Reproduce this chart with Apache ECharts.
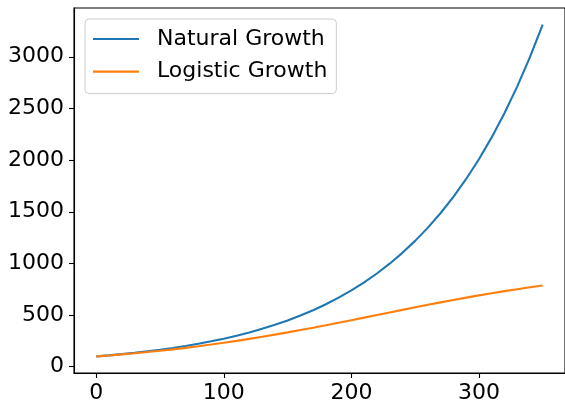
<!DOCTYPE html>
<html><head><meta charset="utf-8">
<script src="https://cdn.jsdelivr.net/npm/echarts@6/dist/echarts.min.js"></script>
<style>html,body{margin:0;padding:0;background:#fff}#c{width:565px;height:404px}</style>
</head><body><div id="c"></div>
<script>
const xValues = [0,10,20,30,40,50,60,70,80,90,100,110,120,130,140,150,160,170,180,190,200,210,220,230,240,250,260,270,280,290,300,310,320,330,340,350];
const naturalGrowth = [100,110.5,122.1,135,149.2,164.9,182.2,201.4,222.6,246,271.8,300.4,332,366.9,405.5,448.2,495.3,547.4,605,668.6,738.9,816.6,902.5,997.4,1102.3,1218.2,1346.4,1488,1644.6,1817.4,2008.6,2219.8,2453.3,2711.3,2996.4,3311.5];
const logisticGrowth = [100,109.4,119.5,130.4,142.2,154.9,168.4,182.9,198.3,214.7,232,250.3,269.5,289.6,310.6,332.4,355,378.2,402,426.2,450.9,475.7,500.7,525.7,550.5,575.1,599.4,623.1,646.3,668.8,690.6,711.5,731.6,750.8,769,786.3];
const xTicks = [0,100,200,300];
const yTicks = [0,500,1000,1500,2000,2500,3000];
const seriesNames = ['Natural Growth','Logistic Growth'];

const font = 'DejaVu Sans';
const fs = 22;
const chart = echarts.init(document.getElementById('c'), null, {renderer:'canvas'});
const pairs = arr => xValues.map((x,i)=>[x,arr[i]]);
chart.setOption({
  animation:false,
  grid:{left:74,top:8,right:-3,bottom:29,show:true,borderColor:'#000',borderWidth:1.1,backgroundColor:'transparent'},
  legend:{
    left:85, top:19, orient:'vertical',
    data:seriesNames.map(n=>({name:n})),
    icon:'rect', itemWidth:46, itemHeight:2.1, itemGap:10.6,
    padding:[9,9,11,8],
    borderColor:'#cccccc', borderWidth:1, borderRadius:4, backgroundColor:'rgba(255,255,255,0.8)',
    textStyle:{fontFamily:font,fontSize:fs,color:'#000',lineHeight:22,padding:[0,0,0,13]}
  },
  xAxis:{type:'value',min:-17.5,max:367.5,
    axisLine:{show:true,onZero:false,lineStyle:{color:'#000',width:1.1}},splitLine:{show:false},
    axisTick:{show:true,length:5,inside:false,lineStyle:{color:'#000',width:1.1},customValues:xTicks},
    axisLabel:{fontFamily:font,fontSize:fs,color:'#000',margin:9,customValues:xTicks,formatter:v=>String(v)}},
  yAxis:{type:'value',min:-60.5,max:3472,
    axisLine:{show:true,onZero:false,lineStyle:{color:'#000',width:1.1}},splitLine:{show:false},
    axisTick:{show:true,length:5,inside:false,lineStyle:{color:'#000',width:1.1},customValues:yTicks},
    axisLabel:{fontFamily:font,fontSize:fs,color:'#000',margin:10,customValues:yTicks,formatter:v=>String(v)}},
  series:[
    {name:seriesNames[0],type:'line',data:pairs(naturalGrowth),showSymbol:false,smooth:false,
     color:'#1f77b4',lineStyle:{color:'#1f77b4',width:2.1}},
    {name:seriesNames[1],type:'line',data:pairs(logisticGrowth),showSymbol:false,smooth:false,
     color:'#ff7f0e',lineStyle:{color:'#ff7f0e',width:2.1}}
  ]
});
</script></body></html>
